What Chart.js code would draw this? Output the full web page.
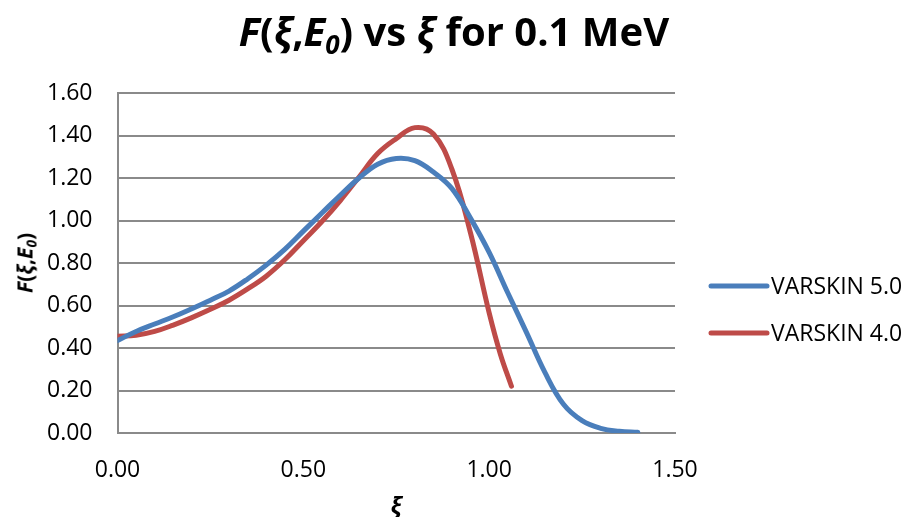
<!DOCTYPE html>
<html>
<head>
<meta charset="utf-8">
<script src="https://cdn.jsdelivr.net/npm/chart.js@4"></script>
<style>
  html, body { margin: 0; padding: 0; background: #fff; }
  #wrap { position: relative; width: 908px; height: 517px; font-family: 'Open Sans', sans-serif; color: #000; }
  #chart { position: absolute; left: 0; top: 0; }
  .ttl { position: absolute; white-space: nowrap; font-weight: 700; line-height: 1; }
  #title { left: 0; width: 908px; top: 11px; text-align: center; font-size: 40px; }
  #ytitle { left: 25px; top: 263px; font-size: 21px; transform: translate(-50%, -50%) rotate(-90deg); }
  #xtitle { left: 396px; top: 505px; font-size: 24px; transform: translate(-50%, -50%); }
  sub { font-size: 65%; vertical-align: -0.3em; line-height: 0; }
</style>
</head>
<body>
<div id="wrap">
  <canvas id="chart" width="908" height="517"></canvas>
  <div class="ttl" id="title"><i>F</i>(<i>ξ</i>,<i>E<sub>0</sub></i>) vs <i>ξ</i> for 0.1 MeV</div>
  <div class="ttl" id="ytitle"><i>F</i>(<i>ξ</i>,<i>E<sub>0</sub></i>)</div>
  <div class="ttl" id="xtitle"><i>ξ</i></div>
</div>
<script>
// ---- data ----
const xiV5 = [0.00, 0.05, 0.10, 0.15, 0.20, 0.25, 0.30, 0.35, 0.40, 0.45, 0.50, 0.55, 0.60, 0.65, 0.70,
              0.75, 0.80, 0.85, 0.90, 0.95, 1.00, 1.05, 1.10, 1.15, 1.20, 1.25, 1.30, 1.35, 1.40];
const fV5  = [0.435, 0.478, 0.513, 0.547, 0.585, 0.625, 0.668, 0.725, 0.790, 0.864, 0.950, 1.035, 1.120, 1.200, 1.265,
              1.292, 1.282, 1.228, 1.150, 1.010, 0.850, 0.660, 0.475, 0.285, 0.135, 0.058, 0.022, 0.008, 0.003];

const xiV4 = [0.00, 0.05, 0.10, 0.15, 0.20, 0.25, 0.30, 0.35, 0.40, 0.45, 0.50, 0.55, 0.60, 0.65, 0.70,
              0.75, 0.80, 0.85, 0.90, 0.95, 1.00, 1.03, 1.06];
const fV4  = [0.455, 0.460, 0.478, 0.508, 0.543, 0.582, 0.625, 0.678, 0.738, 0.815, 0.905, 0.995, 1.095, 1.205, 1.315,
              1.385, 1.437, 1.407, 1.240, 0.940, 0.565, 0.372, 0.220];

const seriesLabels = ['VARSKIN 5.0', 'VARSKIN 4.0'];
const seriesColors = ['#4a7ebb', '#be4b48'];

const xMin = 0, xMax = 1.5, xStep = 0.5;
const yMin = 0, yMax = 1.6, yStep = 0.2;

const GRID = '#8a8a8a';
const FONT = "'Open Sans', sans-serif";

const toPoints = (xs, ys) => xs.map((x, i) => ({ x, y: ys[i] }));

// legend drawn at the right, beside the plot
const sideLegend = {
    id: 'sideLegend',
    afterDraw(chart) {
        const c = chart.ctx;
        const x0 = 711, x1 = 767;
        const rows = [286, 333];
        c.save();
        chart.data.datasets.forEach((ds, i) => {
            const y = rows[i];
            c.strokeStyle = ds.borderColor;
            c.lineWidth = 5;
            c.lineCap = 'round';
            c.beginPath();
            c.moveTo(x0, y);
            c.lineTo(x1, y);
            c.stroke();
            c.fillStyle = '#000';
            c.font = '23px ' + FONT;
            c.textBaseline = 'middle';
            c.textAlign = 'left';
            c.fillText(ds.label, 771, y + 1);
        });
        c.restore();
    }
};

new Chart(document.getElementById('chart'), {
    type: 'line',
    data: {
        datasets: [
            { label: seriesLabels[0], data: toPoints(xiV5, fV5), borderColor: seriesColors[0] },
            { label: seriesLabels[1], data: toPoints(xiV4, fV4), borderColor: seriesColors[1] },
        ].map(ds => ({
            ...ds,
            backgroundColor: ds.borderColor,
            borderWidth: 5,
            borderCapStyle: 'round',
            borderJoinStyle: 'round',
            pointRadius: 0,
            fill: false,
            tension: 0.4,
        }))
    },
    options: {
        responsive: false,
        animation: false,
        layout: { padding: { left: 0, right: 233, top: 93, bottom: 0 } },
        plugins: { legend: { display: false }, tooltip: { enabled: false } },
        scales: {
            x: {
                type: 'linear',
                min: xMin, max: xMax,
                grid: { display: false, drawTicks: false },
                border: { display: true, color: GRID, width: 2 },
                ticks: {
                    stepSize: xStep,
                    padding: 24,
                    color: '#000',
                    font: { family: FONT, size: 23 },
                    callback: v => v.toFixed(2),
                },
                afterFit: s => { s.height = 84; },
            },
            y: {
                min: yMin, max: yMax,
                grid: { color: GRID, lineWidth: 2, drawTicks: false },
                border: { display: true, color: GRID, width: 2 },
                ticks: {
                    stepSize: yStep,
                    padding: 25,
                    color: '#000',
                    font: { family: FONT, size: 23 },
                    callback: v => v.toFixed(2),
                },
                afterFit: s => { s.width = 117.5; },
            },
        },
    },
    plugins: [sideLegend],
});
</script>
</body>
</html>
